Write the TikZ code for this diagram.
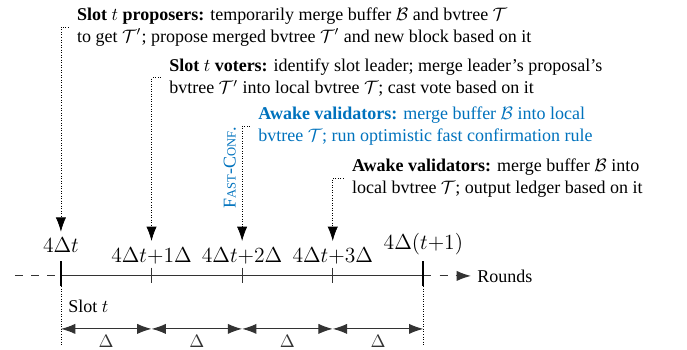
\documentclass[tikz,border=0pt]{standalone}
\usepackage[no-math]{fontspec}
\setmainfont{Liberation Serif}
\usepackage{amsmath, amssymb}
\usepackage{tikz}
\usetikzlibrary{arrows.meta}
\definecolor{fcblue}{RGB}{0,114,189}
\tikzset{
  cuearrow/.style={-{Latex[length=2.8mm, width=2mm]}, densely dotted},
  deltaarrow/.style={{Latex[length=2.8mm, width=2mm]}-{Latex[length=2.8mm, width=2mm]}, semithick, black!80},
  axisline/.style={semithick, black!80},
  axisdash/.style={semithick, black!80, dash pattern=on 4.5pt off 4.5pt},
  tickmark/.style={black!80},
  endtick/.style={line width=1pt},
  roletext/.style={align=left, inner sep=0pt, anchor=west},
  timelabel/.style={font=\large, anchor=base}
}
\begin{document}
\begin{tikzpicture}[>=Latex, every node/.style={font=\normalsize}]
  \useasboundingbox (-1.19,-1.43) rectangle (12.23,5.39);
  % role descriptions
  \node[roletext] (prop) at (0.31,4.86) {\textbf{Slot $t$ proposers:} temporarily merge buffer $\mathcal{B}$ and bvtree $\mathcal{T}$\\to get $\mathcal{T}'$; propose merged bvtree $\mathcal{T}'$ and new block based on it};
  \node[roletext] (vote) at (2.11,3.87) {\textbf{Slot $t$ voters:} identify slot leader; merge leader's proposal's\\bvtree $\mathcal{T}'$ into local bvtree $\mathcal{T}$; cast vote based on it};
  \node[roletext, text=fcblue] (fast) at (3.85,2.93) {\textbf{Awake validators:} merge buffer $\mathcal{B}$ into local\\bvtree $\mathcal{T}$; run optimistic fast confirmation rule};
  \node[roletext] (awake) at (5.68,1.91) {\textbf{Awake validators:} merge buffer $\mathcal{B}$ into\\local bvtree $\mathcal{T}$; output ledger based on it};
  \node[rotate=90, text=fcblue] (fc) at (3.30,2.12) {F{\scriptsize AST}-C{\scriptsize ONF}.};

  % time axis
  \coordinate (r0) at (0,0);
  \coordinate (r1) at (1.77,0);
  \coordinate (r2) at (3.54,0);
  \coordinate (r3) at (5.31,0);
  \coordinate (r4) at (7.08,0);
  \coordinate (lstart) at (-0.9,0);
  \node[anchor=west] (rounds) at (8.01,0) {Rounds};
  \draw[axisdash] (lstart) -- (r0);
  \draw[axisline] (r0) -- (r4);
  \draw[axisdash, -{Latex[length=2.8mm, width=2mm]}] (r4) -- (rounds.west);
  \draw[endtick] (0,0.29) -- (0,-0.2);
  \draw[endtick] (7.08,0.29) -- (7.08,-0.2);
  \draw[tickmark] (1.77,0.16) -- (1.77,-0.14);
  \draw[tickmark] (3.54,0.16) -- (3.54,-0.14);
  \draw[tickmark] (5.31,0.16) -- (5.31,-0.14);

  \node[timelabel] (t0) at (0,0.45) {$4\Delta t$};
  \node[timelabel] (t1) at (1.77,0.27) {$4\Delta t{+}1\Delta$};
  \node[timelabel] (t2) at (3.54,0.27) {$4\Delta t{+}2\Delta$};
  \node[timelabel] (t3) at (5.31,0.27) {$4\Delta t{+}3\Delta$};
  \node[timelabel] (t4) at (7.08,0.51) {$4\Delta(t{+}1)$};

  % pointers from roles to rounds
  \draw[cuearrow] ([xshift=-4.5pt]prop.west) -| (t0.north);
  \draw[cuearrow] ([xshift=-4.5pt]vote.west) -| (t1.north);
  \draw[cuearrow] ([xshift=-4.5pt]fast.west) -| (t2.north);
  \draw[cuearrow] ([xshift=-4.5pt]awake.west) -| (t3.north);

  % slot span
  \coordinate (b0) at (0,-1.35);
  \coordinate (b4) at (7.08,-1.35);
  \draw[densely dotted] (0,-0.2) -- (b0);
  \draw[densely dotted] (7.08,-0.2) -- (b4);
  \node[anchor=west] (slot) at (0.02,-0.59) {Slot $t$};
  \coordinate (d0) at (0,-1.035);
  \coordinate (d1) at (1.77,-1.035);
  \coordinate (d2) at (3.54,-1.035);
  \coordinate (d3) at (5.31,-1.035);
  \coordinate (d4) at (7.08,-1.035);
  \draw[deltaarrow] (d0) -- node[below] {$\Delta$} (d1);
  \draw[deltaarrow] (d1) -- node[below] {$\Delta$} (d2);
  \draw[deltaarrow] (d2) -- node[below] {$\Delta$} (d3);
  \draw[deltaarrow] (d3) -- node[below] {$\Delta$} (d4);
\end{tikzpicture}
\end{document}
